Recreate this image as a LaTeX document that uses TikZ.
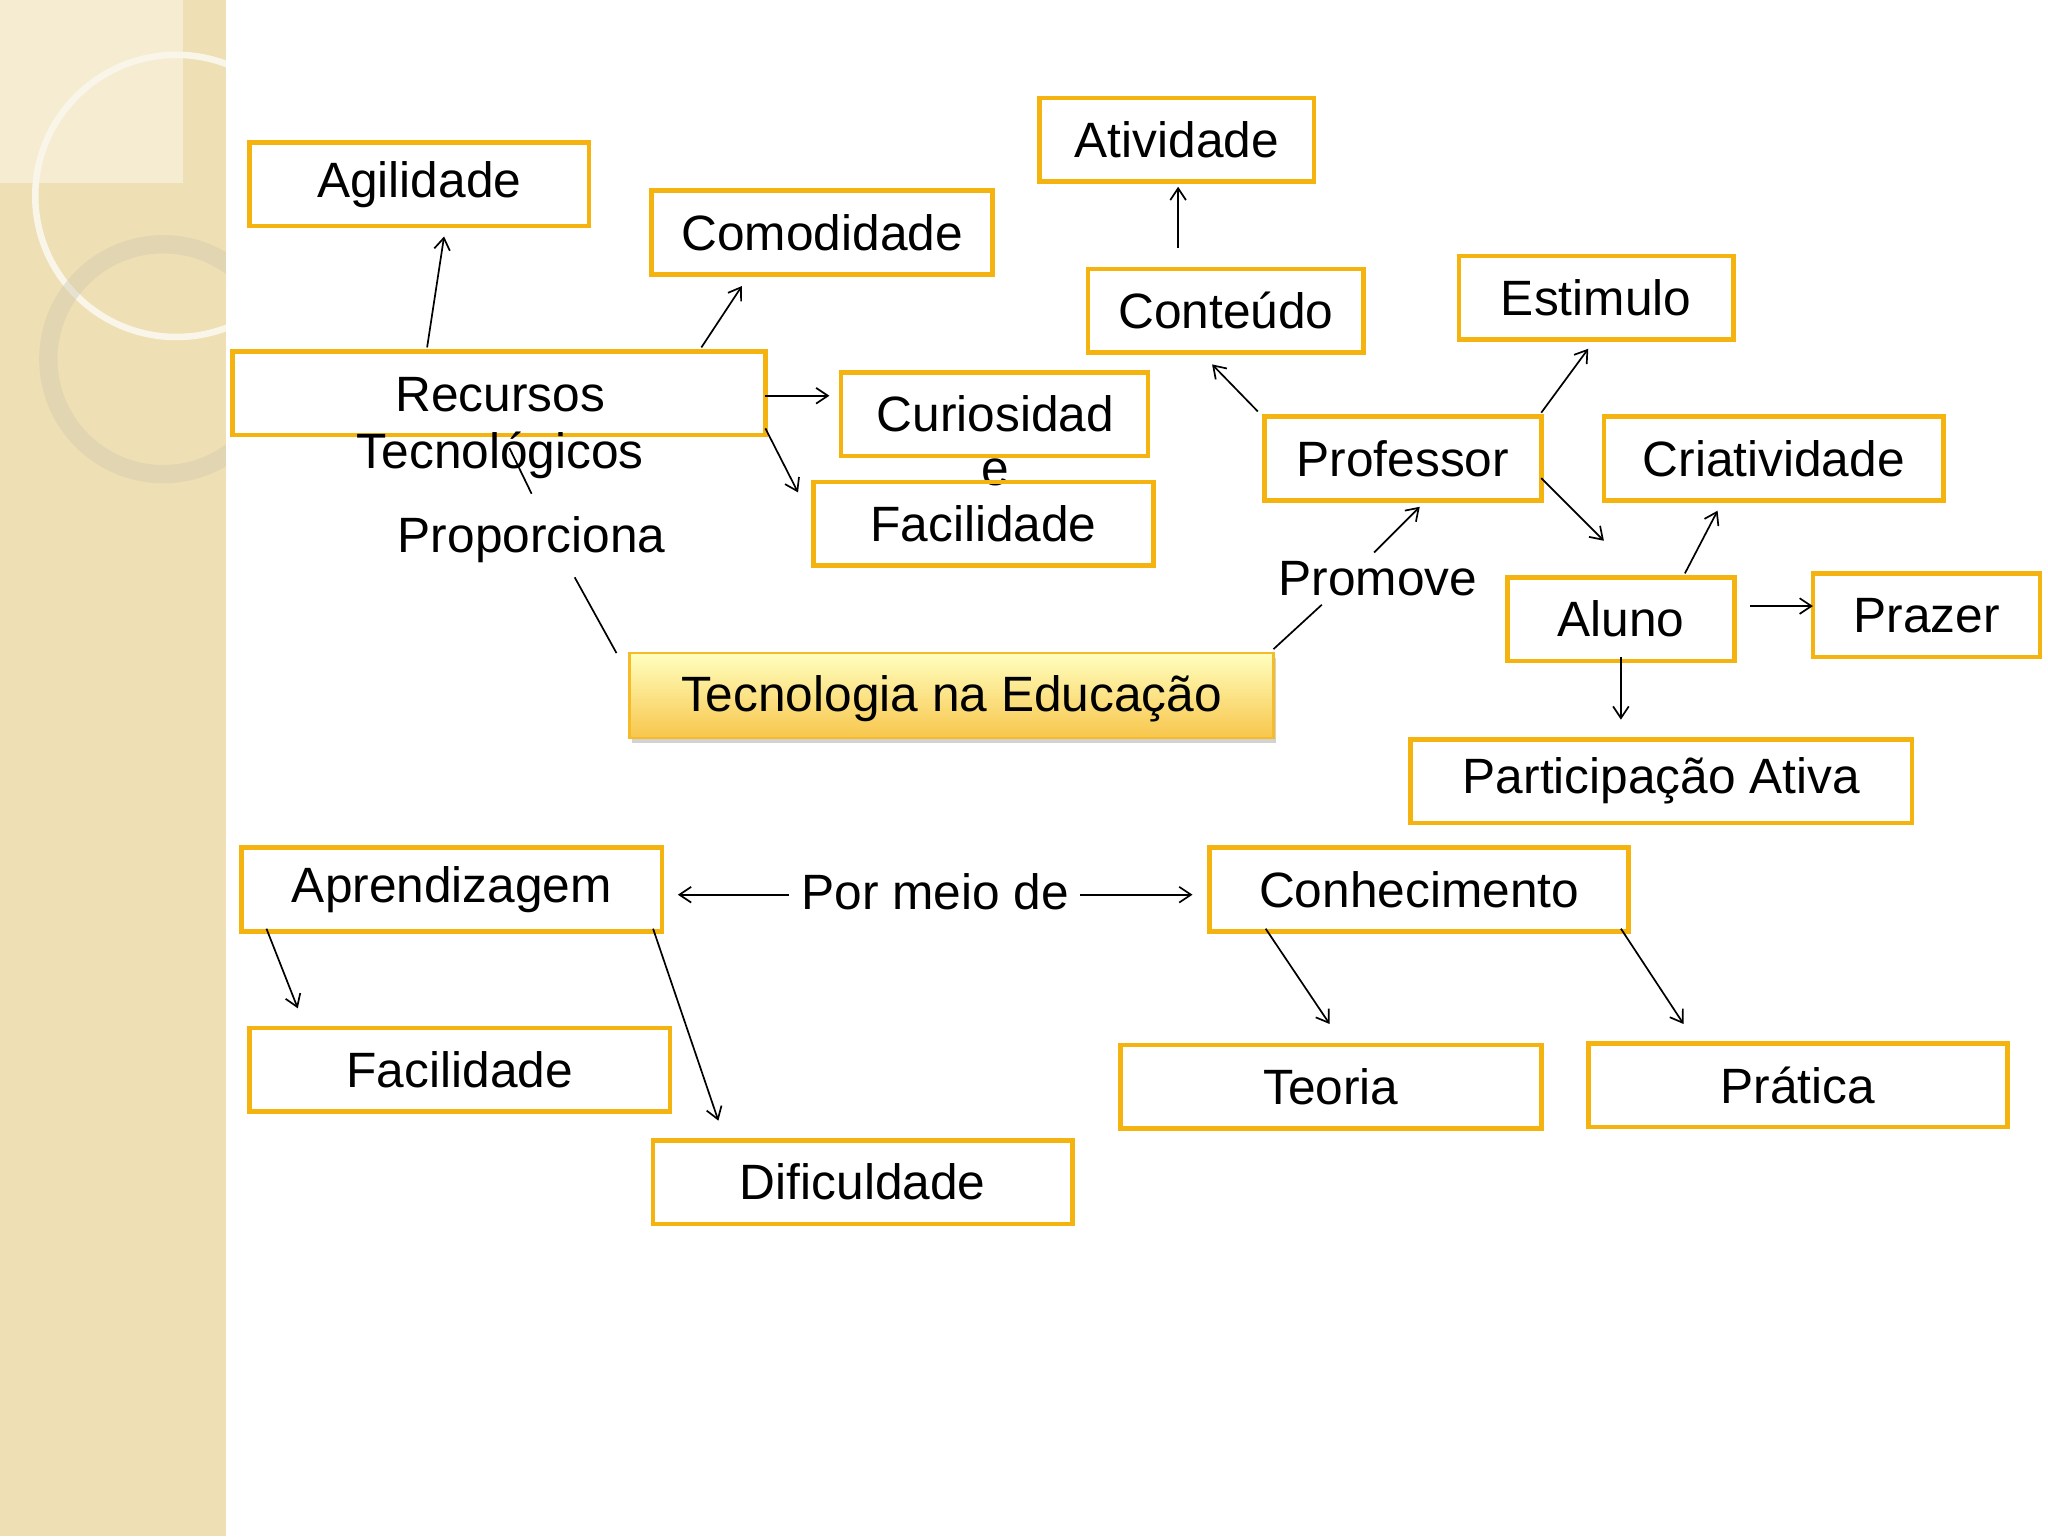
\documentclass[tikz,border=0pt]{standalone}
\usepackage{fontspec}
\setmainfont{Liberation Sans}
\usetikzlibrary{arrows.meta,shadows}
\definecolor{ob}{HTML}{F5B310}
\definecolor{bg}{HTML}{EFDFB4}
\begin{document}
\begin{tikzpicture}[x=1pt,y=-1pt,
 bx/.style={draw=ob,line width=3.5pt,inner sep=0pt,font=\fontsize{38}{45}\selectfont},
 lb/.style={font=\fontsize{38}{45}\selectfont,inner sep=1pt},
 ar/.style={-{Straight Barb[length=9pt,width=12pt]},line width=1.3pt},
 ln/.style={line width=1.3pt}]
\useasboundingbox (0,0) rectangle (1568,1176);
\fill[white] (0,0) rectangle (1568,1176);
\fill[bg] (0,0) rectangle (173,1176);
\begin{scope}
\clip (0,0) rectangle (173,1176);
\fill[bg!60!white] (0,0) rectangle (140,140);
\draw[white!70!bg,line width=5pt] (135,150) circle (108);
\draw[bg!80!black!70,line width=14pt,opacity=0.45] (125,275) circle (88);
\end{scope}
\newcommand{\bxn}[6]{\node[bx,minimum width={#4-#2},minimum height={#5-#3}] (#1) at ({(#2+#4)/2},{(#3+#5)/2+3}) {};\node[bx,draw=none] at ({(#2+#4)/2},{(#3+#5)/2+3}) {#6};}
\bxn{agil}{191}{106}{451}{170}{Agilidade}
\bxn{como}{499}{143}{760}{207}{Comodidade}
\bxn{ativ}{796}{72}{1006}{136}{Atividade}
\bxn{cont}{833}{203}{1044}{267}{Conteúdo}
\bxn{esti}{1117}{193}{1327}{257}{Estimulo}
\bxn{recu}{178}{266}{586}{330}{}
\node[lb] at (383,302) {Recursos};
\node[lb] at (383,349) {Tecnológicos};
\bxn{curi}{644}{282}{879}{346}{}
\node[lb] at (762,317) {Curiosidad};
\node[lb] at (762,362) {e};
\bxn{faci}{623}{366}{883}{430}{Facilidade}
\bxn{prof}{968}{316}{1180}{380}{Professor}
\bxn{cria}{1228}{316}{1488}{380}{Criatividade}
\bxn{alun}{1154}{439}{1328}{503}{Aluno}
\bxn{praz}{1388}{436}{1562}{500}{Prazer}
\node[bx,line width=2pt,draw=ob!90!white,top color=yellow!25!white,bottom color=ob!75!white,drop shadow={opacity=0.35,shadow xshift=2pt,shadow yshift=-4pt},minimum width=493,minimum height=65] (tec) at (728.5,532.5) {};
\node[lb] at (728.5,535) {Tecnologia na Educação};
\bxn{part}{1080}{563}{1464}{627}{Participação Ativa}
\bxn{apre}{185}{646}{507}{710}{Aprendizagem}
\bxn{conh}{926}{646}{1247}{710}{Conhecimento}
\bxn{fac2}{191}{784}{513}{848}{Facilidade}
\bxn{teor}{858}{797}{1180}{861}{Teoria}
\bxn{prat}{1216}{796}{1537}{860}{Prática}
\bxn{difi}{500}{870}{821}{934}{Dificuldade}
\node[lb] (prop) at (407,413) {Proporciona};
\node[lb] (prom) at (1055,443) {Promove};
\node[lb] (pmd) at (716,683) {Por meio de};
\draw[ar] (327,266) -- (340,181);
\draw[ar] (537,266) -- (568,219);
\draw[ar] (586,303) -- (635,303);
\draw[ar] (586,328) -- (611,377);
\draw[ar] (902,190) -- (902,143);
\draw[ar] (963,315) -- (928,279);
\draw[ar] (1180,316) -- (1216,267);
\draw[ar] (1180,366) -- (1228,414);
\draw[ln] (975,497) -- (1012,463);
\draw[ar] (1052,423) -- (1087,388);
\draw[ln] (472,500) -- (440,442);
\draw[ln] (407,378) -- (390,343);
\draw[ar] (1290,439) -- (1315,391);
\draw[ar] (1340,464) -- (1388,464);
\draw[ar] (1241,503) -- (1241,551);
\draw[ar] (604,685) -- (519,685);
\draw[ar] (827,685) -- (913,685);
\draw[ar] (204,711) -- (228,772);
\draw[ar] (500,711) -- (550,858);
\draw[ar] (969,711) -- (1018,784);
\draw[ar] (1241,711) -- (1289,784);
\end{tikzpicture}
\end{document}
